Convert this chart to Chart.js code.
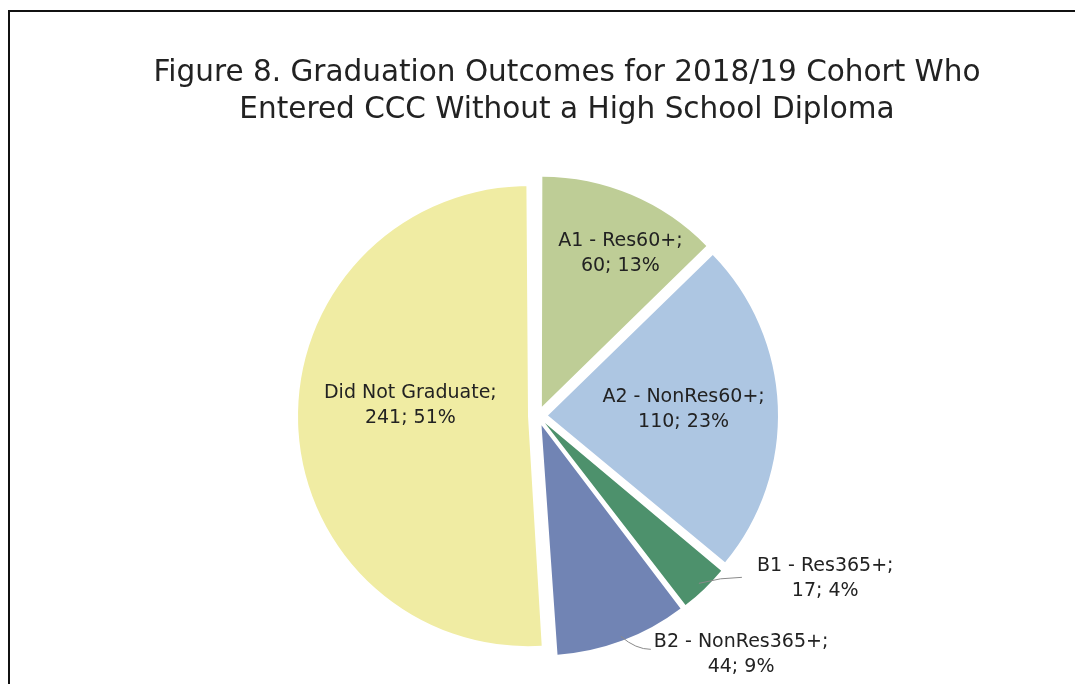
<!DOCTYPE html>
<html>
<head>
<meta charset="utf-8">
<script src="https://cdn.jsdelivr.net/npm/chart.js@4"></script>
<style>
  html, body { margin: 0; padding: 0; background: #fff; overflow: hidden; }
  #frame { position: absolute; left: 8px; top: 10px; width: 1150px; height: 720px; border: 2px solid #111; }
  #chart { position: absolute; left: 10px; top: 12px; }
</style>
</head>
<body>
<div id="frame"></div>
<canvas id="chart" width="1114" height="700"></canvas>
<script>
// Data for the pie
const categories = ['A1 - Res60+', 'A2 - NonRes60+', 'B1 - Res365+', 'B2 - NonRes365+', 'Did Not Graduate'];
const students = [60, 110, 17, 44, 241];
const sliceColors = ['#BECD96', '#ADC6E2', '#4D916C', '#7184B4', '#F0ECA3'];
const titleLines = ['Figure 8. Graduation Outcomes for 2018/19 Cohort Who', 'Entered CCC Without a High School Diploma'];

const FONT = "'DejaVu Sans', sans-serif";
const OFFSET = 40; // Chart.js moves an arc by offset / 4
const PIE_SHIFT = -29; // pie sits a bit left of the title centre

// label placement: inside slices by radius fraction, outside ones with a leader line
const labelPlacement = [
    { inside: true, frac: 0.73, dx: 14 },
    { inside: true, frac: 0.59 },
    { inside: false, lx: 43, ly: -6, gap: 15, ty: 1 },
    { inside: false, lx: 30, ly: 13, gap: 3, ty: 5 },
    { inside: true, frac: 0.535, dy: -15 }
];

const total = students.reduce((a, b) => a + b, 0);

// move the plot area so the pie is off-centre while the title stays centred
const shiftArea = {
    id: 'shiftArea',
    afterLayout(chart) {
        chart.chartArea.left += PIE_SHIFT;
        chart.chartArea.right += PIE_SHIFT;
    }
};

// keep every exploded slice at the same radius
const radiusFix = {
    id: 'radiusFix',
    afterDatasetsUpdate(chart) {
        chart.getDatasetMeta(0).data.forEach(arc => {
            const fix = 1 - Math.sin(Math.min(Math.PI, arc.circumference));
            arc.outerRadius -= (OFFSET / 4) * fix;
        });
    }
};

const sliceLabels = {
    id: 'sliceLabels',
    afterDatasetsDraw(chart) {
        const ctx = chart.ctx;
        const arcs = chart.getDatasetMeta(0).data;
        ctx.save();
        ctx.font = '19px ' + FONT;
        ctx.fillStyle = '#222';
        ctx.textBaseline = 'middle';
        ctx.textAlign = 'center';
        const lh = 25;
        arcs.forEach((arc, i) => {
            const mid = (arc.startAngle + arc.endAngle) / 2;
            const cx = arc.x + Math.cos(mid) * OFFSET / 4;
            const cy = arc.y + Math.sin(mid) * OFFSET / 4;
            const r = arc.outerRadius;
            const pct = Math.round(students[i] / total * 100);
            const lines = [categories[i] + ';', students[i] + '; ' + pct + '%'];
            const p = labelPlacement[i];
            let tx, ty;
            if (p.inside) {
                tx = cx + Math.cos(mid) * r * p.frac + (p.dx || 0);
                ty = cy + Math.sin(mid) * r * p.frac + (p.dy || 0);
            } else {
                const ex = cx + Math.cos(mid) * r;
                const ey = cy + Math.sin(mid) * r;
                const lx = ex + p.lx, ly = ey + p.ly;
                ctx.strokeStyle = '#8a8a8a';
                ctx.lineWidth = 1;
                ctx.beginPath();
                ctx.moveTo(ex, ey);
                ctx.quadraticCurveTo(ex + p.lx * 0.5, ly, lx, ly);
                ctx.stroke();
                const w = Math.max(...lines.map(t => ctx.measureText(t).width));
                tx = lx + p.gap + w / 2;
                ty = ly + p.ty;
            }
            lines.forEach((t, k) => {
                ctx.fillText(t, tx, ty + (k - (lines.length - 1) / 2) * lh);
            });
        });
        ctx.restore();
    }
};

const config = {
    type: 'pie',
    data: {
        labels: categories,
        datasets: [{
            data: students,
            backgroundColor: sliceColors,
            borderWidth: 0,
            offset: OFFSET,
            radius: 230
        }]
    },
    options: {
        responsive: false,
        animation: false,
        events: [],
        layout: { padding: { left: 0, right: 0, top: 0, bottom: 19 } },
        plugins: {
            legend: { display: false },
            tooltip: { enabled: false },
            title: {
                display: true,
                text: titleLines,
                color: '#222',
                font: { family: FONT, size: 29.5, weight: 'normal', lineHeight: 1.25 },
                padding: { top: 43, bottom: 10 }
            }
        }
    },
    plugins: [shiftArea, radiusFix, sliceLabels]
};

new Chart(document.getElementById('chart'), config);
</script>
</body>
</html>
